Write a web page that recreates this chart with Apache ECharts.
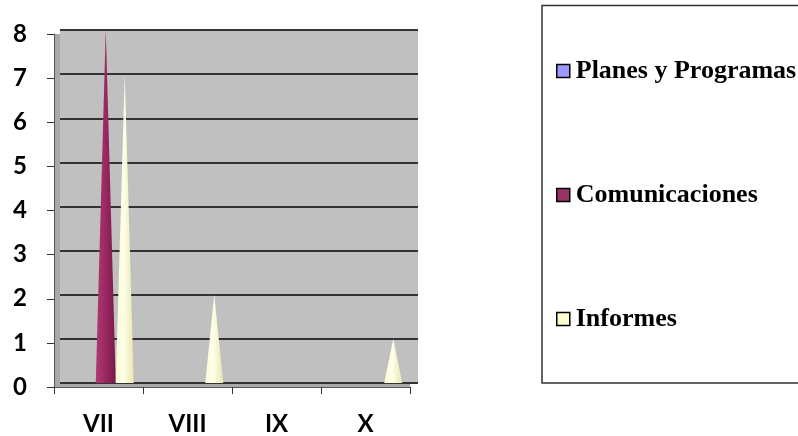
<!DOCTYPE html>
<html>
<head>
<meta charset="utf-8">
<script src="https://cdn.jsdelivr.net/npm/echarts@6/dist/echarts.min.js"></script>
<style>
html,body{margin:0;padding:0;background:#fff;}
#c{width:798px;height:436px;}
</style>
</head>
<body>
<div id="c"></div>
<script>
var categories = ['VII', 'VIII', 'IX', 'X'];
var seriesNames = ['Planes y Programas', 'Comunicaciones', 'Informes'];
var planes = [0, null, 0, null];
var comunicaciones = [8, null, null, null];
var informes = [7, 2, null, 1];
var yTicks = [0, 1, 2, 3, 4, 5, 6, 7, 8];

var chart = echarts.init(document.getElementById('c'));

function grad(a, b, c) {
  return new echarts.graphic.LinearGradient(0, 0, 1, 0, [
    {offset: 0, color: a}, {offset: 0.45, color: b}, {offset: 1, color: c}
  ]);
}

var option = {
  backgroundColor: '#fff',
  animation: false,
  grid: [
    {left: 54, right: 388, top: 34, bottom: 49, show: true, backgroundColor: '#a9a9a9', borderWidth: 0, z: 0},
    {left: 60, right: 380, top: 30, bottom: 53, show: true, backgroundColor: '#c0c0c0', borderWidth: 0, z: 1}
  ],
  xAxis: [
    {type: 'category', gridIndex: 0, data: categories,
     axisLine: {show: true, lineStyle: {color: '#555', width: 1}},
     axisTick: {show: true, length: 7, lineStyle: {color: '#333'}},
     axisLabel: {fontFamily: 'Lato', fontWeight: 'bold', fontSize: 24, color: '#000', margin: 25},
     z: 5},
    {type: 'category', gridIndex: 1, data: categories, show: false}
  ],
  yAxis: [
    {type: 'value', gridIndex: 0, min: 0, max: 8, interval: 1,
     axisLine: {show: true, lineStyle: {color: '#555', width: 1}},
     axisTick: {show: true, length: 7, lineStyle: {color: '#333'}},
     splitLine: {show: false},
     axisLabel: {fontFamily: 'Lato', fontWeight: 'bold', fontSize: 24, color: '#000', margin: 27,
       formatter: function (v) { return yTicks.indexOf(v) >= 0 ? String(v) : ''; }},
     z: 5},
    {type: 'value', gridIndex: 1, min: 0, max: 8, interval: 1, z: 3,
     axisLine: {show: false}, axisTick: {show: false}, axisLabel: {show: false},
     splitLine: {show: true, lineStyle: {color: '#333333', width: 2}}}
  ],
  legend: {
    orient: 'vertical',
    left: 542, top: 5.5,
    padding: [52.5, 40, 51, 14],
    itemGap: 98,
    itemWidth: 13, itemHeight: 13,
    icon: 'rect',
    borderColor: '#333', borderWidth: 1.5,
    textStyle: {fontFamily: 'Liberation Serif', fontWeight: 'bold', fontSize: 26, color: '#000', lineHeight: 25, padding: [0, 0, 0, 1]},
    data: [
      {name: seriesNames[0], itemStyle: {color: '#9999ff', borderColor: '#000', borderWidth: 1.5}},
      {name: seriesNames[1], itemStyle: {color: '#993366', borderColor: '#000', borderWidth: 1.5}},
      {name: seriesNames[2], itemStyle: {color: '#ffffcc', borderColor: '#000', borderWidth: 1.5}}
    ]
  },
  series: [
    {name: seriesNames[0], type: 'pictorialBar', xAxisIndex: 1, yAxisIndex: 1, symbol: 'triangle',
     barWidth: 20, barGap: '0%', data: planes, z: 10,
     itemStyle: {color: grad('#7070e0', '#aaaaff', '#6666cc')}},
    {name: seriesNames[1], type: 'pictorialBar', xAxisIndex: 1, yAxisIndex: 1, symbol: 'triangle',
     barWidth: 20, barGap: '0%', data: comunicaciones, z: 10,
     itemStyle: {color: grad('#b03a72', '#9c2a62', '#7a1848')}},
    {name: seriesNames[2], type: 'pictorialBar', xAxisIndex: 1, yAxisIndex: 1, symbol: 'triangle',
     barWidth: 18, barGap: '0%', data: informes, z: 10,
     itemStyle: {color: grad('#fbfbd8', '#ffffe8', '#e6e6b0')}}
  ]
};
chart.setOption(option);
</script>
</body>
</html>
